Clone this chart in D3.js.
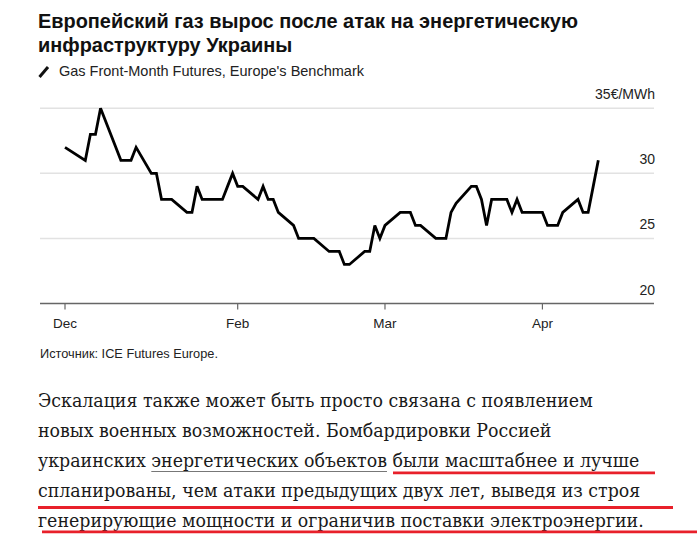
<!DOCTYPE html>
<html>
<head>
<meta charset="utf-8">
<script src="https://cdn.jsdelivr.net/npm/d3@7/dist/d3.min.js"></script>
<style>
  html, body { margin: 0; padding: 0; background: #fff; }
  svg { display: block; }
</style>
</head>
<body>
<svg id="chart" width="697" height="534"></svg>
<script>
// ---------- data ----------
const dates = [
  "2023-12-29","2024-01-02","2024-01-03","2024-01-04","2024-01-05","2024-01-08","2024-01-09","2024-01-10",
  "2024-01-11","2024-01-12","2024-01-15","2024-01-16","2024-01-17","2024-01-18","2024-01-19","2024-01-22",
  "2024-01-23","2024-01-24","2024-01-25","2024-01-26","2024-01-29","2024-01-30","2024-01-31","2024-02-01",
  "2024-02-02","2024-02-05","2024-02-06","2024-02-07","2024-02-08","2024-02-09","2024-02-12","2024-02-13",
  "2024-02-14","2024-02-15","2024-02-16","2024-02-19","2024-02-20","2024-02-21","2024-02-22","2024-02-23",
  "2024-02-26","2024-02-27","2024-02-28","2024-02-29","2024-03-01","2024-03-04","2024-03-05","2024-03-06",
  "2024-03-07","2024-03-08","2024-03-11","2024-03-12","2024-03-13","2024-03-14","2024-03-15","2024-03-18",
  "2024-03-19","2024-03-20","2024-03-21","2024-03-22","2024-03-25","2024-03-26","2024-03-27","2024-03-28",
  "2024-04-01","2024-04-02","2024-04-03","2024-04-04","2024-04-05","2024-04-08","2024-04-09","2024-04-10",
  "2024-04-11","2024-04-12"
];
const prices = [
  32,31,33,33,35,32,31,31,
  31,32,30,30,28,28,28,27,
  27,29,28,28,28,29,30,29,
  29,28,29,28,28,27,26,25,
  25,25,25,24,24,24,23,23,
  24,24,26,25,26,27,27,27,
  26,26,25,25,25,27,27.7,29,
  29,28,26,28,28,27,28,27,
  27,26,26,26,27,28,27,27,
  29,31
];
const yTicks = [20, 25, 30, 35];
const yTickLabels = ["20", "25", "30", "35€/MWh"];
const xTickDates = ["2023-12-29", "2024-02-01", "2024-03-01", "2024-04-01"];
const xTickLabels = ["Dec", "Feb", "Mar", "Apr"];

const titleLines = ["Европейский газ вырос после атак на энергетическую", "инфраструктуру Украины"];
const subtitle = "Gas Front-Month Futures, Europe's Benchmark";
const sourceText = "Источник: ICE Futures Europe.";
const paragraph = [
  "Эскалация также может быть просто связана с появлением",
  "новых военных возможностей. Бомбардировки Россией",
  "украинских энергетических объектов были масштабнее и лучше",
  "спланированы, чем атаки предыдущих двух лет, выведя из строя",
  "генерирующие мощности и ограничив поставки электроэнергии."
];

// ---------- drawing ----------
const parse = d3.utcParse("%Y-%m-%d");
const data = dates.map((d, i) => ({ date: parse(d), value: prices[i] }));
const svg = d3.select("#chart");
svg.append("rect").attr("width", 697).attr("height", 534).attr("fill", "#fff");

const sans = "'Liberation Sans', Arial, Helvetica, sans-serif";

function fitText(sel, target) {
  const w = sel.node().getComputedTextLength();
  const fs = parseFloat(sel.attr("font-size"));
  sel.attr("font-size", (fs * target / w).toFixed(2));
}

// title
const t1 = svg.append("text").attr("x", 38).attr("y", 28).attr("font-family", sans)
  .attr("font-weight", "bold").attr("font-size", 20).attr("fill", "#111").text(titleLines[0]);
fitText(t1, 540);
svg.append("text").attr("x", 38).attr("y", 52).attr("font-family", sans)
  .attr("font-weight", "bold").attr("font-size", t1.attr("font-size")).attr("fill", "#111").text(titleLines[1]);

// subtitle + pencil icon
svg.append("path").attr("d", "M39.5,77 L48,67").attr("stroke", "#111").attr("stroke-width", 3)
  .attr("stroke-linecap", "butt");
const st = svg.append("text").attr("x", 59).attr("y", 75.5).attr("font-family", sans)
  .attr("font-size", 13).attr("fill", "#222").text(subtitle);
fitText(st, 305);

// scales
const x = d3.scaleUtc()
  .domain([parse(dates[0]), parse(dates[dates.length - 1])])
  .range([65, 598.3]);
const y = d3.scaleLinear().domain([20, 35]).range([303.5, 108.3]);

// gridlines
svg.append("g").selectAll("line").data(yTicks.filter(v => v !== 20)).join("line")
  .attr("x1", 40).attr("x2", 654)
  .attr("y1", d => y(d)).attr("y2", d => y(d))
  .attr("stroke", "#e2e2e2").attr("stroke-width", 1.5);

// y labels
svg.append("g").selectAll("text").data(yTicks).join("text")
  .attr("x", 655).attr("y", d => y(d) - 9)
  .attr("text-anchor", "end").attr("font-family", sans).attr("font-size", 14).attr("fill", "#222")
  .text((d, i) => yTickLabels[i]);

// baseline
svg.append("line").attr("x1", 40).attr("x2", 654).attr("y1", y(20)).attr("y2", y(20))
  .attr("stroke", "#666").attr("stroke-width", 1.5);

// x ticks
const xt = svg.append("g").selectAll("g").data(xTickDates).join("g")
  .attr("transform", d => `translate(${x(parse(d))},0)`);
xt.append("line").attr("y1", y(20)).attr("y2", y(20) + 6).attr("stroke", "#666").attr("stroke-width", 1.2);
xt.append("text").attr("y", 328).attr("text-anchor", "middle").attr("font-family", sans)
  .attr("font-size", 13.5).attr("fill", "#222").text((d, i) => xTickLabels[i]);

// line
const line = d3.line().x(d => x(d.date)).y(d => y(d.value));
svg.append("path").datum(data).attr("d", line)
  .attr("fill", "none").attr("stroke", "#000").attr("stroke-width", 2.8)
  .attr("stroke-linejoin", "miter").attr("stroke-miterlimit", 3);

// source
const src = svg.append("text").attr("x", 40).attr("y", 358).attr("font-family", sans)
  .attr("font-size", 12).attr("fill", "#222").text(sourceText);
fitText(src, 178);

// paragraph
const serif = "'DejaVu Serif Condensed', 'DejaVu Serif', Georgia, serif";
const p0 = svg.append("text").attr("x", 38).attr("y", 406.7).attr("font-family", serif)
  .attr("font-size", 20).attr("fill", "#1a1a1a").text(paragraph[0]);
fitText(p0, 555);
const pfs = p0.attr("font-size");
const ptexts = [p0];
for (let i = 1; i < paragraph.length; i++) {
  ptexts.push(svg.append("text").attr("x", 38).attr("y", 406.7 + 30 * i).attr("font-family", serif)
    .attr("font-size", pfs).attr("fill", "#1a1a1a").text(paragraph[i]));
}

// link underline (grey) under "энергетических объектов"
const l3 = ptexts[2].node();
const linkStart = paragraph[2].indexOf("энергетических");
const linkEnd = linkStart + "энергетических объектов".length;
const sx = l3.getStartPositionOfChar(linkStart).x;
const ex = l3.getEndPositionOfChar(linkEnd - 1).x;
svg.append("line").attr("x1", sx).attr("x2", ex).attr("y1", 471.5).attr("y2", 471.5)
  .attr("stroke", "#777").attr("stroke-width", 1);

// red hand-drawn underlines
const red = "#e8202a";
[[393, 655, 472.8], [38, 673, 507.5], [42, 697, 531.8]].forEach(([a, b, yy]) => {
  svg.append("line").attr("x1", a).attr("x2", b).attr("y1", yy).attr("y2", yy)
    .attr("stroke", red).attr("stroke-width", 2.8);
});
</script>
</body>
</html>
